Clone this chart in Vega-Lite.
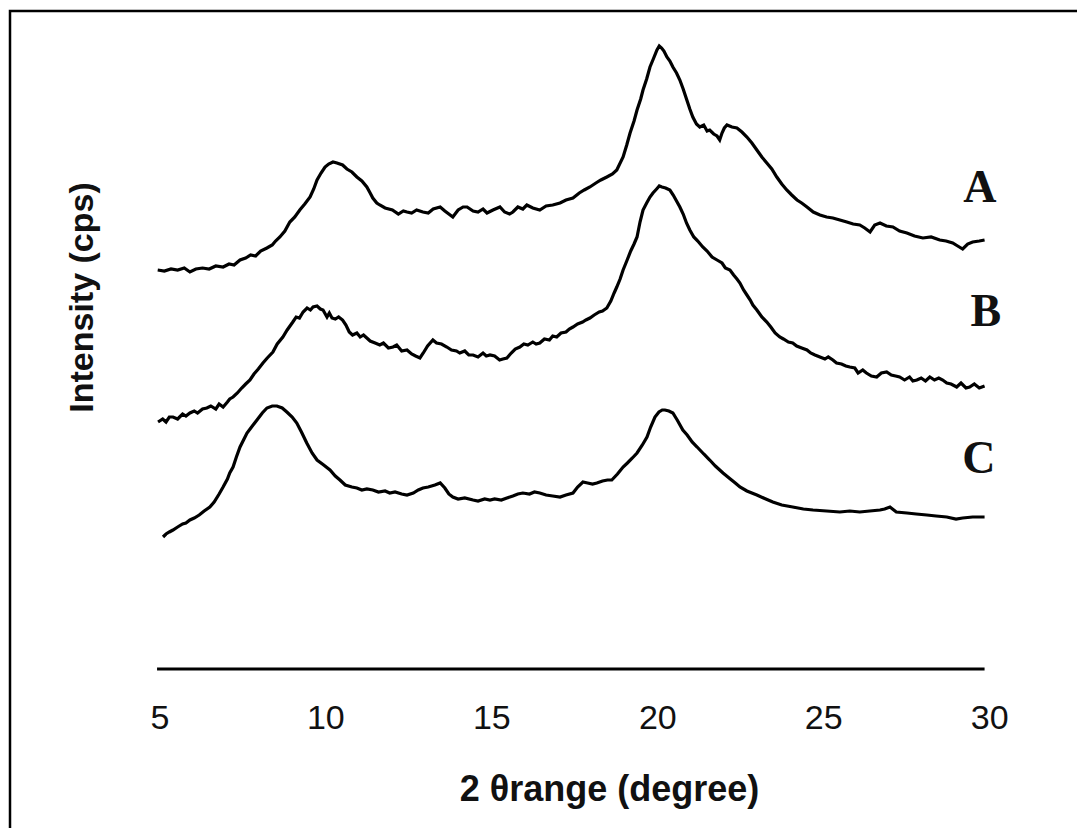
{
  "$schema": "https://vega.github.io/schema/vega-lite/v6.json",
  "autosize": {"type": "none"},
  "padding": {"left": 10, "top": 11, "right": 0, "bottom": 0},
  "width": 1112,
  "height": 830,
  "background": "white",
  "config": {
    "view": {"stroke": "#000000", "strokeWidth": 2.5},
    "font": "Liberation Sans"
  },
  "datasets": {
    "xrd": [
      {"sample":"A","theta":4.95,"cps":399},{"sample":"A","theta":5.15,"cps":398},{"sample":"A","theta":5.35,"cps":400},{"sample":"A","theta":5.55,"cps":399},{"sample":"A","theta":5.75,"cps":401},{"sample":"A","theta":5.92,"cps":397},{"sample":"A","theta":6.1,"cps":400},{"sample":"A","theta":6.3,"cps":401},{"sample":"A","theta":6.5,"cps":400},{"sample":"A","theta":6.7,"cps":403},{"sample":"A","theta":6.92,"cps":402},{"sample":"A","theta":7.1,"cps":405},{"sample":"A","theta":7.25,"cps":404},{"sample":"A","theta":7.43,"cps":409},{"sample":"A","theta":7.6,"cps":411},{"sample":"A","theta":7.75,"cps":414},{"sample":"A","theta":7.9,"cps":413},{"sample":"A","theta":8.05,"cps":418},{"sample":"A","theta":8.24,"cps":421},{"sample":"A","theta":8.4,"cps":424},{"sample":"A","theta":8.5,"cps":428},{"sample":"A","theta":8.63,"cps":432},{"sample":"A","theta":8.78,"cps":438},{"sample":"A","theta":8.93,"cps":447},{"sample":"A","theta":9.08,"cps":452},{"sample":"A","theta":9.23,"cps":459},{"sample":"A","theta":9.38,"cps":465},{"sample":"A","theta":9.54,"cps":472},{"sample":"A","theta":9.65,"cps":480},{"sample":"A","theta":9.75,"cps":489},{"sample":"A","theta":9.87,"cps":496},{"sample":"A","theta":9.99,"cps":502},{"sample":"A","theta":10.1,"cps":505},{"sample":"A","theta":10.23,"cps":507},{"sample":"A","theta":10.35,"cps":506},{"sample":"A","theta":10.52,"cps":504},{"sample":"A","theta":10.65,"cps":500},{"sample":"A","theta":10.8,"cps":497},{"sample":"A","theta":10.95,"cps":492},{"sample":"A","theta":11.1,"cps":488},{"sample":"A","theta":11.25,"cps":482},{"sample":"A","theta":11.35,"cps":476},{"sample":"A","theta":11.43,"cps":471},{"sample":"A","theta":11.55,"cps":466},{"sample":"A","theta":11.64,"cps":464},{"sample":"A","theta":11.8,"cps":461},{"sample":"A","theta":12.02,"cps":459},{"sample":"A","theta":12.2,"cps":455},{"sample":"A","theta":12.35,"cps":458},{"sample":"A","theta":12.46,"cps":457},{"sample":"A","theta":12.6,"cps":456},{"sample":"A","theta":12.75,"cps":459},{"sample":"A","theta":12.94,"cps":457},{"sample":"A","theta":13.1,"cps":456},{"sample":"A","theta":13.25,"cps":460},{"sample":"A","theta":13.46,"cps":462},{"sample":"A","theta":13.6,"cps":458},{"sample":"A","theta":13.72,"cps":455},{"sample":"A","theta":13.84,"cps":452},{"sample":"A","theta":14.0,"cps":459},{"sample":"A","theta":14.15,"cps":462},{"sample":"A","theta":14.27,"cps":462},{"sample":"A","theta":14.45,"cps":458},{"sample":"A","theta":14.6,"cps":457},{"sample":"A","theta":14.75,"cps":460},{"sample":"A","theta":14.87,"cps":456},{"sample":"A","theta":15.05,"cps":459},{"sample":"A","theta":15.26,"cps":462},{"sample":"A","theta":15.4,"cps":457},{"sample":"A","theta":15.55,"cps":455},{"sample":"A","theta":15.65,"cps":457},{"sample":"A","theta":15.8,"cps":462},{"sample":"A","theta":15.95,"cps":460},{"sample":"A","theta":16.07,"cps":464},{"sample":"A","theta":16.25,"cps":461},{"sample":"A","theta":16.46,"cps":459},{"sample":"A","theta":16.65,"cps":463},{"sample":"A","theta":16.85,"cps":464},{"sample":"A","theta":17.07,"cps":466},{"sample":"A","theta":17.25,"cps":469},{"sample":"A","theta":17.46,"cps":471},{"sample":"A","theta":17.65,"cps":476},{"sample":"A","theta":17.8,"cps":479},{"sample":"A","theta":17.97,"cps":482},{"sample":"A","theta":18.15,"cps":486},{"sample":"A","theta":18.3,"cps":489},{"sample":"A","theta":18.48,"cps":492},{"sample":"A","theta":18.65,"cps":495},{"sample":"A","theta":18.78,"cps":499},{"sample":"A","theta":18.97,"cps":512},{"sample":"A","theta":19.08,"cps":524},{"sample":"A","theta":19.18,"cps":536},{"sample":"A","theta":19.3,"cps":548},{"sample":"A","theta":19.39,"cps":559},{"sample":"A","theta":19.5,"cps":570},{"sample":"A","theta":19.57,"cps":579},{"sample":"A","theta":19.68,"cps":590},{"sample":"A","theta":19.78,"cps":602},{"sample":"A","theta":19.88,"cps":610},{"sample":"A","theta":19.99,"cps":619},{"sample":"A","theta":20.06,"cps":623},{"sample":"A","theta":20.13,"cps":621},{"sample":"A","theta":20.2,"cps":618},{"sample":"A","theta":20.29,"cps":612},{"sample":"A","theta":20.38,"cps":608},{"sample":"A","theta":20.47,"cps":602},{"sample":"A","theta":20.58,"cps":596},{"sample":"A","theta":20.68,"cps":589},{"sample":"A","theta":20.78,"cps":580},{"sample":"A","theta":20.89,"cps":569},{"sample":"A","theta":20.98,"cps":560},{"sample":"A","theta":21.07,"cps":552},{"sample":"A","theta":21.18,"cps":545},{"sample":"A","theta":21.28,"cps":542},{"sample":"A","theta":21.4,"cps":544},{"sample":"A","theta":21.5,"cps":538},{"sample":"A","theta":21.58,"cps":539},{"sample":"A","theta":21.7,"cps":535},{"sample":"A","theta":21.8,"cps":533},{"sample":"A","theta":21.88,"cps":529},{"sample":"A","theta":21.95,"cps":536},{"sample":"A","theta":22.02,"cps":541},{"sample":"A","theta":22.1,"cps":544},{"sample":"A","theta":22.25,"cps":542},{"sample":"A","theta":22.4,"cps":541},{"sample":"A","theta":22.55,"cps":537},{"sample":"A","theta":22.7,"cps":532},{"sample":"A","theta":22.85,"cps":526},{"sample":"A","theta":23.0,"cps":519},{"sample":"A","theta":23.15,"cps":512},{"sample":"A","theta":23.3,"cps":506},{"sample":"A","theta":23.45,"cps":500},{"sample":"A","theta":23.6,"cps":492},{"sample":"A","theta":23.75,"cps":485},{"sample":"A","theta":23.9,"cps":479},{"sample":"A","theta":24.05,"cps":474},{"sample":"A","theta":24.21,"cps":469},{"sample":"A","theta":24.35,"cps":466},{"sample":"A","theta":24.51,"cps":462},{"sample":"A","theta":24.7,"cps":457},{"sample":"A","theta":24.9,"cps":454},{"sample":"A","theta":25.1,"cps":452},{"sample":"A","theta":25.29,"cps":451},{"sample":"A","theta":25.5,"cps":449},{"sample":"A","theta":25.71,"cps":447},{"sample":"A","theta":25.9,"cps":445},{"sample":"A","theta":26.1,"cps":444},{"sample":"A","theta":26.25,"cps":441},{"sample":"A","theta":26.41,"cps":437},{"sample":"A","theta":26.55,"cps":444},{"sample":"A","theta":26.71,"cps":446},{"sample":"A","theta":26.9,"cps":443},{"sample":"A","theta":27.1,"cps":442},{"sample":"A","theta":27.3,"cps":438},{"sample":"A","theta":27.52,"cps":436},{"sample":"A","theta":27.75,"cps":433},{"sample":"A","theta":28.0,"cps":431},{"sample":"A","theta":28.25,"cps":432},{"sample":"A","theta":28.51,"cps":429},{"sample":"A","theta":28.7,"cps":428},{"sample":"A","theta":28.9,"cps":426},{"sample":"A","theta":29.05,"cps":423},{"sample":"A","theta":29.2,"cps":420},{"sample":"A","theta":29.35,"cps":425},{"sample":"A","theta":29.5,"cps":427},{"sample":"A","theta":29.7,"cps":428},{"sample":"A","theta":29.86,"cps":429},
      {"sample":"B","theta":4.96,"cps":247},{"sample":"B","theta":5.1,"cps":250},{"sample":"B","theta":5.2,"cps":247},{"sample":"B","theta":5.3,"cps":252},{"sample":"B","theta":5.41,"cps":252},{"sample":"B","theta":5.55,"cps":250},{"sample":"B","theta":5.7,"cps":255},{"sample":"B","theta":5.8,"cps":253},{"sample":"B","theta":5.92,"cps":256},{"sample":"B","theta":6.05,"cps":258},{"sample":"B","theta":6.15,"cps":256},{"sample":"B","theta":6.3,"cps":260},{"sample":"B","theta":6.43,"cps":261},{"sample":"B","theta":6.55,"cps":263},{"sample":"B","theta":6.7,"cps":260},{"sample":"B","theta":6.8,"cps":265},{"sample":"B","theta":6.92,"cps":262},{"sample":"B","theta":7.05,"cps":267},{"sample":"B","theta":7.12,"cps":270},{"sample":"B","theta":7.22,"cps":272},{"sample":"B","theta":7.35,"cps":276},{"sample":"B","theta":7.48,"cps":281},{"sample":"B","theta":7.6,"cps":285},{"sample":"B","theta":7.73,"cps":289},{"sample":"B","theta":7.85,"cps":295},{"sample":"B","theta":7.98,"cps":300},{"sample":"B","theta":8.12,"cps":306},{"sample":"B","theta":8.25,"cps":311},{"sample":"B","theta":8.42,"cps":317},{"sample":"B","theta":8.55,"cps":325},{"sample":"B","theta":8.72,"cps":332},{"sample":"B","theta":8.85,"cps":339},{"sample":"B","theta":9.02,"cps":347},{"sample":"B","theta":9.12,"cps":352},{"sample":"B","theta":9.22,"cps":351},{"sample":"B","theta":9.33,"cps":357},{"sample":"B","theta":9.45,"cps":361},{"sample":"B","theta":9.55,"cps":359},{"sample":"B","theta":9.63,"cps":362},{"sample":"B","theta":9.75,"cps":363},{"sample":"B","theta":9.85,"cps":360},{"sample":"B","theta":9.93,"cps":359},{"sample":"B","theta":10.05,"cps":352},{"sample":"B","theta":10.12,"cps":356},{"sample":"B","theta":10.2,"cps":351},{"sample":"B","theta":10.3,"cps":350},{"sample":"B","theta":10.4,"cps":352},{"sample":"B","theta":10.52,"cps":349},{"sample":"B","theta":10.62,"cps":344},{"sample":"B","theta":10.72,"cps":337},{"sample":"B","theta":10.82,"cps":334},{"sample":"B","theta":10.95,"cps":336},{"sample":"B","theta":11.05,"cps":332},{"sample":"B","theta":11.15,"cps":334},{"sample":"B","theta":11.25,"cps":331},{"sample":"B","theta":11.35,"cps":328},{"sample":"B","theta":11.5,"cps":326},{"sample":"B","theta":11.64,"cps":324},{"sample":"B","theta":11.75,"cps":326},{"sample":"B","theta":11.9,"cps":321},{"sample":"B","theta":12.04,"cps":322},{"sample":"B","theta":12.15,"cps":324},{"sample":"B","theta":12.3,"cps":318},{"sample":"B","theta":12.46,"cps":319},{"sample":"B","theta":12.6,"cps":315},{"sample":"B","theta":12.72,"cps":313},{"sample":"B","theta":12.85,"cps":311},{"sample":"B","theta":12.95,"cps":316},{"sample":"B","theta":13.08,"cps":323},{"sample":"B","theta":13.24,"cps":329},{"sample":"B","theta":13.35,"cps":326},{"sample":"B","theta":13.5,"cps":325},{"sample":"B","theta":13.66,"cps":322},{"sample":"B","theta":13.8,"cps":319},{"sample":"B","theta":13.95,"cps":318},{"sample":"B","theta":14.05,"cps":316},{"sample":"B","theta":14.2,"cps":318},{"sample":"B","theta":14.32,"cps":314},{"sample":"B","theta":14.45,"cps":314},{"sample":"B","theta":14.6,"cps":312},{"sample":"B","theta":14.75,"cps":316},{"sample":"B","theta":14.85,"cps":313},{"sample":"B","theta":14.96,"cps":314},{"sample":"B","theta":15.1,"cps":313},{"sample":"B","theta":15.25,"cps":309},{"sample":"B","theta":15.35,"cps":310},{"sample":"B","theta":15.47,"cps":311},{"sample":"B","theta":15.6,"cps":316},{"sample":"B","theta":15.72,"cps":320},{"sample":"B","theta":15.86,"cps":322},{"sample":"B","theta":15.98,"cps":325},{"sample":"B","theta":16.1,"cps":324},{"sample":"B","theta":16.25,"cps":327},{"sample":"B","theta":16.35,"cps":325},{"sample":"B","theta":16.46,"cps":326},{"sample":"B","theta":16.6,"cps":330},{"sample":"B","theta":16.75,"cps":329},{"sample":"B","theta":16.85,"cps":333},{"sample":"B","theta":16.97,"cps":332},{"sample":"B","theta":17.1,"cps":336},{"sample":"B","theta":17.25,"cps":337},{"sample":"B","theta":17.35,"cps":340},{"sample":"B","theta":17.46,"cps":342},{"sample":"B","theta":17.6,"cps":345},{"sample":"B","theta":17.75,"cps":347},{"sample":"B","theta":17.85,"cps":349},{"sample":"B","theta":17.97,"cps":351},{"sample":"B","theta":18.1,"cps":354},{"sample":"B","theta":18.25,"cps":357},{"sample":"B","theta":18.35,"cps":358},{"sample":"B","theta":18.48,"cps":361},{"sample":"B","theta":18.6,"cps":368},{"sample":"B","theta":18.7,"cps":376},{"sample":"B","theta":18.78,"cps":382},{"sample":"B","theta":18.88,"cps":390},{"sample":"B","theta":18.97,"cps":399},{"sample":"B","theta":19.08,"cps":408},{"sample":"B","theta":19.2,"cps":418},{"sample":"B","theta":19.3,"cps":425},{"sample":"B","theta":19.39,"cps":432},{"sample":"B","theta":19.48,"cps":447},{"sample":"B","theta":19.57,"cps":459},{"sample":"B","theta":19.68,"cps":466},{"sample":"B","theta":19.78,"cps":472},{"sample":"B","theta":19.87,"cps":476},{"sample":"B","theta":19.98,"cps":480},{"sample":"B","theta":20.06,"cps":483},{"sample":"B","theta":20.14,"cps":482},{"sample":"B","theta":20.25,"cps":481},{"sample":"B","theta":20.38,"cps":479},{"sample":"B","theta":20.48,"cps":474},{"sample":"B","theta":20.58,"cps":468},{"sample":"B","theta":20.68,"cps":462},{"sample":"B","theta":20.78,"cps":455},{"sample":"B","theta":20.88,"cps":446},{"sample":"B","theta":20.98,"cps":439},{"sample":"B","theta":21.1,"cps":432},{"sample":"B","theta":21.22,"cps":428},{"sample":"B","theta":21.37,"cps":422},{"sample":"B","theta":21.5,"cps":418},{"sample":"B","theta":21.65,"cps":412},{"sample":"B","theta":21.8,"cps":409},{"sample":"B","theta":21.95,"cps":406},{"sample":"B","theta":22.05,"cps":401},{"sample":"B","theta":22.19,"cps":399},{"sample":"B","theta":22.3,"cps":394},{"sample":"B","theta":22.4,"cps":390},{"sample":"B","theta":22.49,"cps":386},{"sample":"B","theta":22.6,"cps":379},{"sample":"B","theta":22.7,"cps":374},{"sample":"B","theta":22.8,"cps":369},{"sample":"B","theta":22.88,"cps":364},{"sample":"B","theta":23.0,"cps":359},{"sample":"B","theta":23.15,"cps":352},{"sample":"B","theta":23.3,"cps":347},{"sample":"B","theta":23.42,"cps":342},{"sample":"B","theta":23.55,"cps":336},{"sample":"B","theta":23.69,"cps":332},{"sample":"B","theta":23.8,"cps":330},{"sample":"B","theta":23.95,"cps":327},{"sample":"B","theta":24.08,"cps":326},{"sample":"B","theta":24.2,"cps":323},{"sample":"B","theta":24.35,"cps":321},{"sample":"B","theta":24.51,"cps":319},{"sample":"B","theta":24.62,"cps":316},{"sample":"B","theta":24.75,"cps":314},{"sample":"B","theta":24.9,"cps":312},{"sample":"B","theta":25.05,"cps":310},{"sample":"B","theta":25.15,"cps":312},{"sample":"B","theta":25.29,"cps":309},{"sample":"B","theta":25.4,"cps":306},{"sample":"B","theta":25.55,"cps":305},{"sample":"B","theta":25.68,"cps":303},{"sample":"B","theta":25.8,"cps":302},{"sample":"B","theta":25.95,"cps":301},{"sample":"B","theta":26.05,"cps":296},{"sample":"B","theta":26.19,"cps":299},{"sample":"B","theta":26.3,"cps":296},{"sample":"B","theta":26.45,"cps":293},{"sample":"B","theta":26.61,"cps":292},{"sample":"B","theta":26.75,"cps":296},{"sample":"B","theta":26.91,"cps":297},{"sample":"B","theta":27.05,"cps":294},{"sample":"B","theta":27.18,"cps":293},{"sample":"B","theta":27.3,"cps":292},{"sample":"B","theta":27.45,"cps":289},{"sample":"B","theta":27.6,"cps":292},{"sample":"B","theta":27.7,"cps":288},{"sample":"B","theta":27.82,"cps":289},{"sample":"B","theta":27.95,"cps":291},{"sample":"B","theta":28.08,"cps":288},{"sample":"B","theta":28.21,"cps":292},{"sample":"B","theta":28.35,"cps":289},{"sample":"B","theta":28.48,"cps":291},{"sample":"B","theta":28.6,"cps":289},{"sample":"B","theta":28.72,"cps":286},{"sample":"B","theta":28.85,"cps":285},{"sample":"B","theta":29.02,"cps":282},{"sample":"B","theta":29.15,"cps":286},{"sample":"B","theta":29.3,"cps":281},{"sample":"B","theta":29.41,"cps":282},{"sample":"B","theta":29.55,"cps":285},{"sample":"B","theta":29.7,"cps":281},{"sample":"B","theta":29.86,"cps":283},
      {"sample":"C","theta":5.11,"cps":132},{"sample":"C","theta":5.2,"cps":135},{"sample":"C","theta":5.3,"cps":137},{"sample":"C","theta":5.41,"cps":139},{"sample":"C","theta":5.55,"cps":142},{"sample":"C","theta":5.7,"cps":145},{"sample":"C","theta":5.8,"cps":146},{"sample":"C","theta":5.92,"cps":149},{"sample":"C","theta":6.05,"cps":151},{"sample":"C","theta":6.2,"cps":154},{"sample":"C","theta":6.35,"cps":158},{"sample":"C","theta":6.52,"cps":162},{"sample":"C","theta":6.65,"cps":167},{"sample":"C","theta":6.8,"cps":175},{"sample":"C","theta":6.92,"cps":182},{"sample":"C","theta":7.05,"cps":190},{"sample":"C","theta":7.12,"cps":196},{"sample":"C","theta":7.22,"cps":202},{"sample":"C","theta":7.32,"cps":212},{"sample":"C","theta":7.43,"cps":222},{"sample":"C","theta":7.52,"cps":228},{"sample":"C","theta":7.64,"cps":236},{"sample":"C","theta":7.8,"cps":243},{"sample":"C","theta":7.94,"cps":249},{"sample":"C","theta":8.1,"cps":256},{"sample":"C","theta":8.24,"cps":261},{"sample":"C","theta":8.4,"cps":263},{"sample":"C","theta":8.54,"cps":263},{"sample":"C","theta":8.7,"cps":261},{"sample":"C","theta":8.84,"cps":257},{"sample":"C","theta":9.0,"cps":252},{"sample":"C","theta":9.14,"cps":246},{"sample":"C","theta":9.28,"cps":237},{"sample":"C","theta":9.44,"cps":226},{"sample":"C","theta":9.6,"cps":216},{"sample":"C","theta":9.75,"cps":209},{"sample":"C","theta":9.95,"cps":204},{"sample":"C","theta":10.14,"cps":199},{"sample":"C","theta":10.3,"cps":193},{"sample":"C","theta":10.44,"cps":189},{"sample":"C","theta":10.6,"cps":184},{"sample":"C","theta":10.8,"cps":182},{"sample":"C","theta":10.95,"cps":181},{"sample":"C","theta":11.1,"cps":179},{"sample":"C","theta":11.25,"cps":180},{"sample":"C","theta":11.43,"cps":179},{"sample":"C","theta":11.6,"cps":177},{"sample":"C","theta":11.8,"cps":178},{"sample":"C","theta":11.94,"cps":176},{"sample":"C","theta":12.1,"cps":177},{"sample":"C","theta":12.3,"cps":175},{"sample":"C","theta":12.46,"cps":174},{"sample":"C","theta":12.65,"cps":176},{"sample":"C","theta":12.8,"cps":179},{"sample":"C","theta":12.94,"cps":181},{"sample":"C","theta":13.1,"cps":182},{"sample":"C","theta":13.3,"cps":184},{"sample":"C","theta":13.46,"cps":186},{"sample":"C","theta":13.6,"cps":181},{"sample":"C","theta":13.72,"cps":175},{"sample":"C","theta":13.84,"cps":172},{"sample":"C","theta":14.0,"cps":170},{"sample":"C","theta":14.2,"cps":171},{"sample":"C","theta":14.45,"cps":169},{"sample":"C","theta":14.6,"cps":168},{"sample":"C","theta":14.8,"cps":170},{"sample":"C","theta":14.96,"cps":169},{"sample":"C","theta":15.1,"cps":170},{"sample":"C","theta":15.3,"cps":169},{"sample":"C","theta":15.47,"cps":171},{"sample":"C","theta":15.65,"cps":173},{"sample":"C","theta":15.8,"cps":175},{"sample":"C","theta":15.95,"cps":176},{"sample":"C","theta":16.15,"cps":175},{"sample":"C","theta":16.3,"cps":177},{"sample":"C","theta":16.46,"cps":176},{"sample":"C","theta":16.65,"cps":174},{"sample":"C","theta":16.85,"cps":173},{"sample":"C","theta":17.07,"cps":172},{"sample":"C","theta":17.25,"cps":174},{"sample":"C","theta":17.46,"cps":176},{"sample":"C","theta":17.6,"cps":182},{"sample":"C","theta":17.76,"cps":187},{"sample":"C","theta":17.9,"cps":186},{"sample":"C","theta":18.05,"cps":185},{"sample":"C","theta":18.18,"cps":186},{"sample":"C","theta":18.35,"cps":188},{"sample":"C","theta":18.5,"cps":189},{"sample":"C","theta":18.63,"cps":189},{"sample":"C","theta":18.8,"cps":195},{"sample":"C","theta":18.97,"cps":202},{"sample":"C","theta":19.1,"cps":206},{"sample":"C","theta":19.25,"cps":211},{"sample":"C","theta":19.39,"cps":216},{"sample":"C","theta":19.55,"cps":224},{"sample":"C","theta":19.69,"cps":232},{"sample":"C","theta":19.8,"cps":242},{"sample":"C","theta":19.93,"cps":252},{"sample":"C","theta":20.05,"cps":257},{"sample":"C","theta":20.15,"cps":259},{"sample":"C","theta":20.23,"cps":259},{"sample":"C","theta":20.35,"cps":258},{"sample":"C","theta":20.47,"cps":256},{"sample":"C","theta":20.6,"cps":249},{"sample":"C","theta":20.77,"cps":239},{"sample":"C","theta":20.9,"cps":234},{"sample":"C","theta":21.05,"cps":227},{"sample":"C","theta":21.2,"cps":222},{"sample":"C","theta":21.4,"cps":215},{"sample":"C","theta":21.58,"cps":209},{"sample":"C","theta":21.75,"cps":203},{"sample":"C","theta":21.98,"cps":196},{"sample":"C","theta":22.2,"cps":190},{"sample":"C","theta":22.35,"cps":186},{"sample":"C","theta":22.49,"cps":182},{"sample":"C","theta":22.7,"cps":178},{"sample":"C","theta":23.0,"cps":174},{"sample":"C","theta":23.2,"cps":171},{"sample":"C","theta":23.48,"cps":167},{"sample":"C","theta":23.75,"cps":164},{"sample":"C","theta":24.08,"cps":162},{"sample":"C","theta":24.4,"cps":160},{"sample":"C","theta":24.69,"cps":159},{"sample":"C","theta":25.1,"cps":158},{"sample":"C","theta":25.5,"cps":157},{"sample":"C","theta":25.8,"cps":158},{"sample":"C","theta":26.1,"cps":157},{"sample":"C","theta":26.4,"cps":158},{"sample":"C","theta":26.71,"cps":159},{"sample":"C","theta":26.85,"cps":160},{"sample":"C","theta":27.01,"cps":162},{"sample":"C","theta":27.2,"cps":157},{"sample":"C","theta":27.52,"cps":156},{"sample":"C","theta":27.8,"cps":155},{"sample":"C","theta":28.12,"cps":154},{"sample":"C","theta":28.4,"cps":153},{"sample":"C","theta":28.72,"cps":152},{"sample":"C","theta":29.0,"cps":150},{"sample":"C","theta":29.2,"cps":151},{"sample":"C","theta":29.5,"cps":152},{"sample":"C","theta":29.86,"cps":152}
    ],
    "labels": [
      {"sample":"A","theta":29.72,"cps":481},
      {"sample":"B","theta":29.9,"cps":357},
      {"sample":"C","theta":29.69,"cps":210}
    ],
    "baseline": [
      {"from":4.93,"to":29.86,"cps":0}
    ]
  },
  "layer": [
    {
      "data": {"name": "xrd"},
      "mark": {"type": "line", "color": "#000000", "strokeWidth": 3.2, "clip": true},
      "encoding": {
        "x": {
          "field": "theta", "type": "quantitative",
          "scale": {"domain": [0.5, 34], "nice": false, "zero": false},
          "axis": {
            "orient": "bottom", "offset": -172, "domain": false, "ticks": false, "tickSize": 0, "grid": false,
            "values": [5, 10, 15, 20, 25, 30],
            "labelFont": "Liberation Sans", "labelFontSize": 34, "labelColor": "#111111",
            "labelBaseline": "alphabetic", "labelPadding": 59, "labelFlush": false, "labelOverlap": false,
            "title": "2 θrange (degree)", "titleFont": "Liberation Sans", "titleFontSize": 36, "titleFontWeight": "bold",
            "titleColor": "#111111", "titleX": 599, "titleY": 131, "titleAlign": "center", "titleBaseline": "alphabetic"
          }
        },
        "y": {
          "field": "cps", "type": "quantitative",
          "scale": {"domain": [-172, 658], "nice": false, "zero": false},
          "axis": {
            "orient": "left", "domain": false, "ticks": false, "labels": false, "grid": false,
            "title": "Intensity (cps)", "titleFont": "Liberation Sans", "titleFontSize": 34, "titleFontWeight": "bold",
            "titleColor": "#111111", "titleAngle": -90, "titleX": 82, "titleY": 286, "titleAlign": "center", "titleBaseline": "alphabetic"
          }
        },
        "detail": {"field": "sample", "type": "nominal"}
      }
    },
    {
      "data": {"name": "baseline"},
      "mark": {"type": "rule", "color": "#000000", "strokeWidth": 3},
      "encoding": {
        "x": {"field": "from", "type": "quantitative"},
        "x2": {"field": "to"},
        "y": {"field": "cps", "type": "quantitative"}
      }
    },
    {
      "data": {"name": "labels"},
      "mark": {"type": "text", "font": "Liberation Serif", "fontWeight": "bold", "fontSize": 46, "align": "center", "baseline": "middle", "color": "#111111"},
      "encoding": {
        "x": {"field": "theta", "type": "quantitative"},
        "y": {"field": "cps", "type": "quantitative"},
        "text": {"field": "sample", "type": "nominal"}
      }
    }
  ]
}
